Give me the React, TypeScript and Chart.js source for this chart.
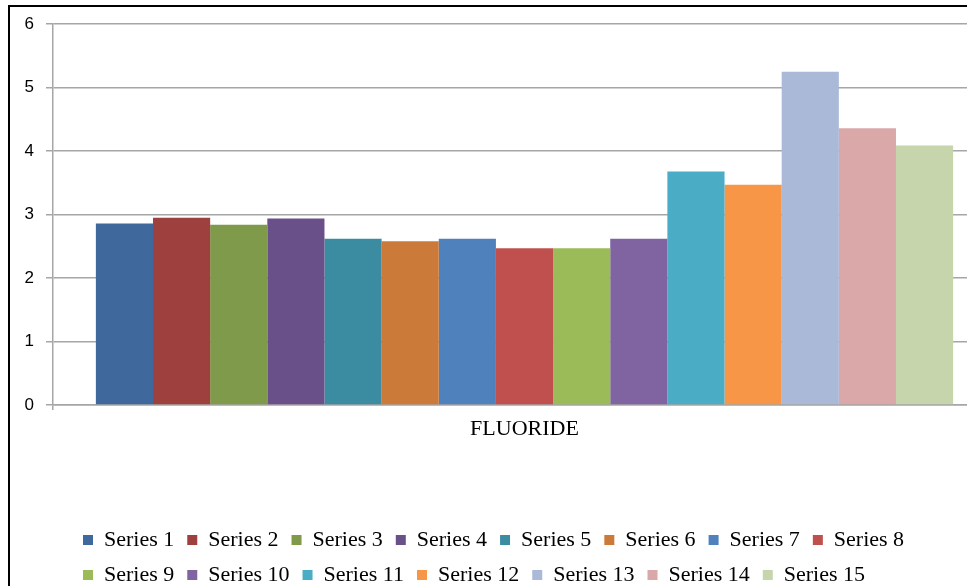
import React, { useEffect, useRef } from "react";
import { Chart, registerables } from "chart.js";

Chart.register(...registerables);

const categories = ["FLUORIDE"];
const seriesNames = [
  "Series 1", "Series 2", "Series 3", "Series 4", "Series 5",
  "Series 6", "Series 7", "Series 8", "Series 9", "Series 10",
  "Series 11", "Series 12", "Series 13", "Series 14", "Series 15",
];
const seriesValues = [2.86, 2.95, 2.84, 2.94, 2.62, 2.58, 2.62, 2.47, 2.47, 2.62, 3.68, 3.47, 5.25, 4.36, 4.09];
const seriesColors = [
  "#3F699C", "#9E403E", "#7E9A4A", "#6A5088", "#3B8CA1",
  "#CC7A39", "#4F81BD", "#C0504D", "#9BBB59", "#8064A2",
  "#4BACC6", "#F79646", "#A9B9D7", "#DAA8A8", "#C6D5AC",
];
const yTicks = [0, 1, 2, 3, 4, 5, 6];

const legendShift = {
  id: "legendShift",
  afterLayout(chart: any) {
    const lg = chart.legend;
    if (lg) {
      lg.left += 17;
      lg.right += 17;
    }
  },
};

export default function App() {
  const ref = useRef<HTMLCanvasElement | null>(null);

  useEffect(() => {
    if (!ref.current) return;
    const chart = new Chart(ref.current, {
      type: "bar",
      data: {
        labels: categories,
        datasets: seriesNames.map((name, i) => ({
          label: name,
          data: [seriesValues[i]],
          backgroundColor: seriesColors[i],
          borderWidth: 0,
        })),
      },
      options: {
        responsive: false,
        animation: false,
        layout: { padding: { left: 0, right: 14, top: 21, bottom: 11 } },
        datasets: {
          bar: { categoryPercentage: 15 / 16.5, barPercentage: 1.0 },
        },
        scales: {
          x: {
            offset: true,
            afterFit(scale: any) {
              scale.height = 111;
            },
            grid: {
              display: true,
              drawOnChartArea: false,
              tickLength: 5,
              color: "#A6A6A6",
              lineWidth: 1.5,
            },
            border: { display: true, color: "#A6A6A6", width: 1.5 },
            ticks: {
              padding: 6,
              color: "#000",
              font: { family: "'Liberation Serif', 'Times New Roman', serif", size: 22 },
            },
          },
          y: {
            min: 0,
            max: 6,
            afterFit(scale: any) {
              scale.width = 43;
            },
            afterBuildTicks(scale: any) {
              scale.ticks = yTicks.map((v) => ({ value: v }));
            },
            grid: {
              color: "#A6A6A6",
              lineWidth: 1.5,
              tickLength: 7,
            },
            border: { display: true, color: "#A6A6A6", width: 1.5 },
            ticks: {
              padding: 12,
              color: "#000",
              font: { family: "'Liberation Sans', Arial, sans-serif", size: 17 },
            },
          },
        },
        plugins: {
          legend: {
            position: "bottom",
            align: "start",
            fullSize: false,
            labels: {
              boxWidth: 10,
              boxHeight: 10,
              padding: 13,
              color: "#000",
              font: { family: "'Liberation Serif', 'Times New Roman', serif", size: 22 },
            },
          },
          tooltip: { enabled: false },
        },
      },
      plugins: [legendShift],
    });
    return () => chart.destroy();
  }, []);

  return (
    <div
      style={{
        position: "fixed",
        left: 0,
        top: 0,
        width: 967,
        height: 586,
        overflow: "hidden",
        background: "#fff",
      }}
    >
      <canvas
        ref={ref}
        width={1000}
        height={605}
        style={{ position: "absolute", left: 10, top: 2, width: 1000, height: 605 }}
      />
      <div
        style={{
          position: "absolute",
          left: 8,
          top: 5,
          width: 1200,
          height: 800,
          borderLeft: "2px solid #000",
          borderTop: "2px solid #000",
          boxSizing: "border-box",
          pointerEvents: "none",
        }}
      />
    </div>
  );
}
